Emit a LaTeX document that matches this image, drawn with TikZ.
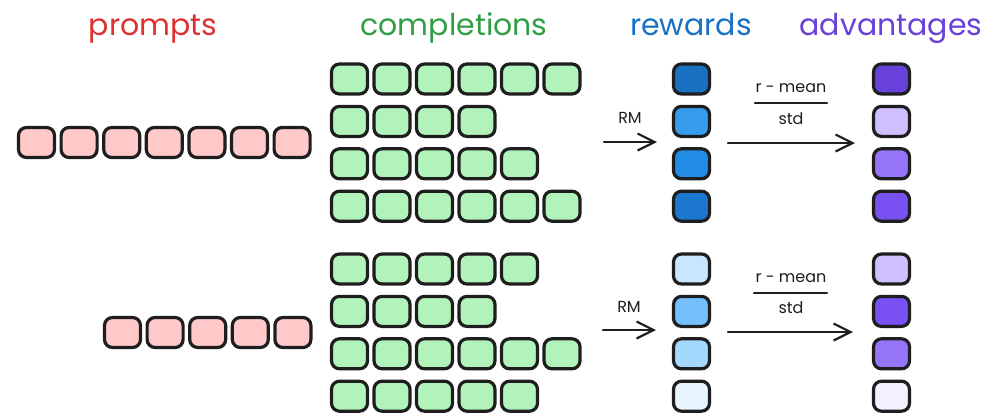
\documentclass[tikz,border=0pt]{standalone}
\usepackage{fontspec}
\setmainfont{Poppins}
\usetikzlibrary{arrows.meta}
\definecolor{strk}{HTML}{1E1E1E}
\definecolor{pfill}{HTML}{FFC9C9}
\definecolor{cfill}{HTML}{B2F2BB}
\definecolor{tred}{HTML}{E03131}
\definecolor{tgreen}{HTML}{2F9E44}
\definecolor{tblue}{HTML}{1971C2}
\definecolor{tviolet}{HTML}{6741D9}
\definecolor{bA1}{HTML}{1971C2}
\definecolor{bA2}{HTML}{369CEB}
\definecolor{bA3}{HTML}{228BE6}
\definecolor{bA4}{HTML}{1C78CF}
\definecolor{bB1}{HTML}{C7E7FE}
\definecolor{bB2}{HTML}{74C0FC}
\definecolor{bB3}{HTML}{A5D8FF}
\definecolor{bB4}{HTML}{E7F5FF}
\definecolor{vA1}{HTML}{6741D9}
\definecolor{vA2}{HTML}{D0BFFF}
\definecolor{vA3}{HTML}{9775FA}
\definecolor{vA4}{HTML}{7950F2}
\definecolor{vB1}{HTML}{D0BFFF}
\definecolor{vB2}{HTML}{7950F2}
\definecolor{vB3}{HTML}{9775FA}
\definecolor{vB4}{HTML}{F3F0FF}
\begin{document}
\begin{tikzpicture}[x=1pt,y=-1pt,
  tok/.style={draw=strk, line width=3.2pt, rounded corners=8pt, minimum width=36pt, minimum height=30pt, inner sep=0pt},
  ttl/.style={font=\fontsize{30}{32}\selectfont, anchor=base},
  lbl/.style={font=\fontsize{16}{18}\selectfont, text=strk},
  arr/.style={draw=strk, line width=2.2pt, line cap=round, -{Straight Barb[length=17pt, width=17pt, line width=2.2pt]}},
  fracline/.style={draw=strk, line width=2.2pt, line cap=round}]
\useasboundingbox (0,0) rectangle (985,416);
% titles
\node[ttl, text=tred] (tp) at (153,35) {prompts};
\node[ttl, text=tgreen] (tc) at (454,35) {completions};
\node[ttl, text=tblue] (tr) at (691,35) {rewards};
\node[ttl, text=tviolet] (ta) at (891,35) {advantages};
% prompts
\foreach \k in {1,...,7} {
  \node[tok, fill=pfill] (pA-\k) at ({36.5+42.6*(\k-1)},142.5) {};
}
\foreach \k in {1,...,5} {
  \node[tok, fill=pfill] (pB-\k) at ({122.5+42.6*(\k-1)},332.5) {};
}
% completions
\foreach \r/\n in {1/6,2/4,3/5,4/6} {
  \foreach \k in {1,...,\n} {
    \node[tok, fill=cfill] (cA-\r-\k) at ({349.5+42.5*(\k-1)},{79+42.4*(\r-1)}) {};
  }
}
\foreach \r/\n in {1/5,2/4,3/6,4/5} {
  \foreach \k in {1,...,\n} {
    \node[tok, fill=cfill] (cB-\r-\k) at ({349.5+42.5*(\k-1)},{269+42.4*(\r-1)}) {};
  }
}
% rewards & advantages
\foreach \r in {1,...,4} {
  \node[tok, fill=bA\r] (rA-\r) at (691.5,{79+42.4*(\r-1)}) {};
  \node[tok, fill=vA\r] (aA-\r) at (891.5,{79+42.4*(\r-1)}) {};
  \node[tok, fill=bB\r] (rB-\r) at (691.5,{269+42.4*(\r-1)}) {};
  \node[tok, fill=vB\r] (aB-\r) at (891.5,{269+42.4*(\r-1)}) {};
}
% arrows top
\coordinate (rmA-s) at (604,142);
\coordinate (rmA-e) at (657,142);
\coordinate (nA-s) at (728,143);
\coordinate (nA-e) at (855,143);
\draw[arr] (rmA-s) -- (rmA-e);
\node[lbl] (rmA) at (630,118) {RM};
\draw[arr] (nA-s) -- (nA-e);
\node[lbl] (numA) at (791,88) {r - mean};
\coordinate (flA-s) at (755,103);
\coordinate (flA-e) at (827,103);
\draw[fracline] (flA-s) -- (flA-e);
\node[lbl] (denA) at (791,119) {std};
% arrows bottom
\coordinate (rmB-s) at (603,330);
\coordinate (rmB-e) at (656,330);
\coordinate (nB-s) at (728,332);
\coordinate (nB-e) at (853,332);
\draw[arr] (rmB-s) -- (rmB-e);
\node[lbl] (rmB) at (629,307) {RM};
\draw[arr] (nB-s) -- (nB-e);
\node[lbl] (numB) at (791,278) {r - mean};
\coordinate (flB-s) at (754,293);
\coordinate (flB-e) at (827,293);
\draw[fracline] (flB-s) -- (flB-e);
\node[lbl] (denB) at (791,308) {std};
\end{tikzpicture}
\end{document}
